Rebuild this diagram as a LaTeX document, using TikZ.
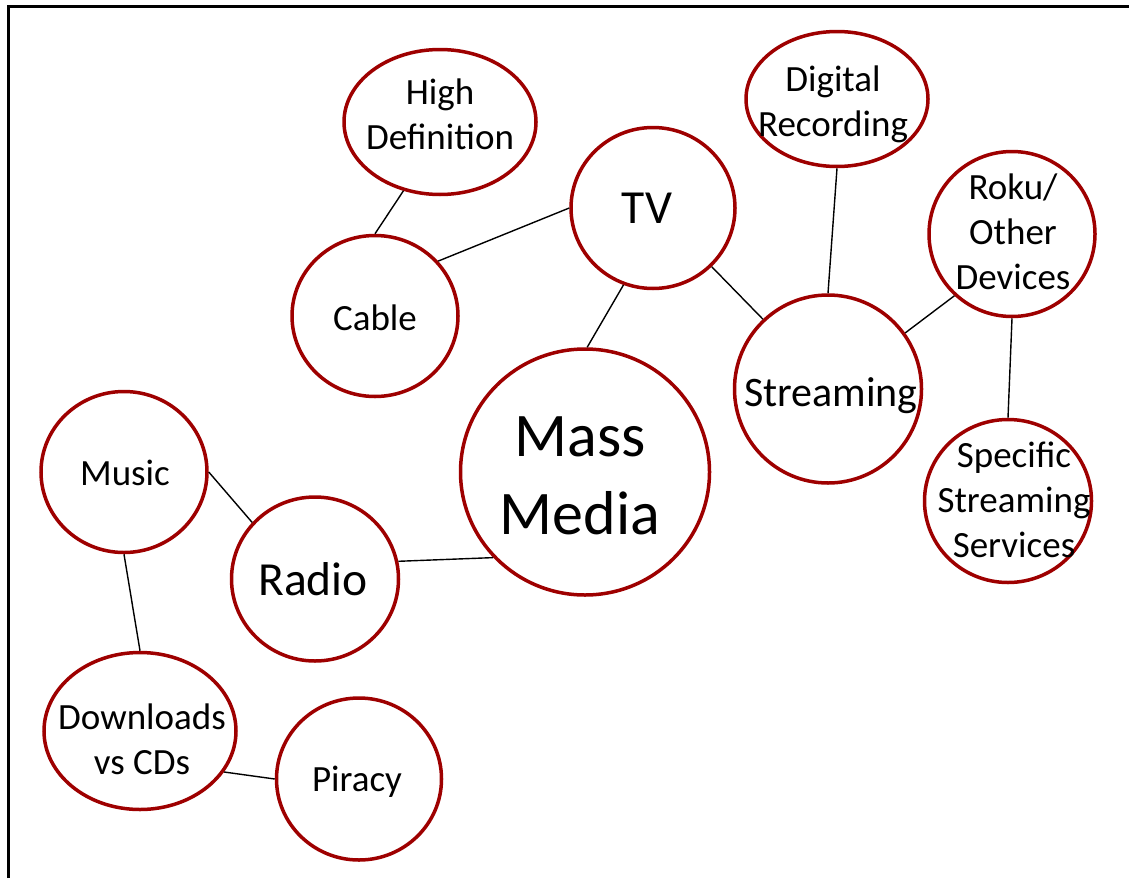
\documentclass[tikz,border=0pt]{standalone}
\usepackage{fontspec}
\setmainfont{Carlito}
\usetikzlibrary{shapes.geometric}
\definecolor{bubred}{RGB}{158,0,0}
\tikzset{
  bub/.style={ellipse, draw=bubred, line width=3.5pt, fill=white, inner sep=0pt},
  txt/.style={align=center, inner sep=0pt, font=\fontsize{37}{45}\selectfont},
  big/.style={align=center, inner sep=0pt, font=\fontsize{62}{78}\selectfont},
  mid/.style={align=center, inner sep=0pt, font=\fontsize{47.5}{55}\selectfont},
  link/.style={line width=1.4pt, black},
  frameline/.style={line width=3pt, black}
}
\begin{document}
\begin{tikzpicture}[x=1pt,y=-1pt]
\useasboundingbox (0,0) rectangle (1129,878);
\coordinate (fa) at (8.5,878);
\coordinate (fb) at (8.5,6.5);
\coordinate (fc) at (1129,6.5);
\draw[frameline] (fa) -- (fb) -- (fc);

% bubbles
\node[bub, minimum width=192pt, minimum height=145pt] (hd) at (440,122) {};
\node[bub, minimum width=164pt, minimum height=161pt] (tv) at (653,208) {};
\node[bub, minimum width=182pt, minimum height=135pt] (dr) at (837,99) {};
\node[bub, minimum width=166pt, minimum height=165pt] (roku) at (1012,234) {};
\node[bub, minimum width=166pt, minimum height=161pt] (cable) at (375,316) {};
\node[bub, minimum width=187pt, minimum height=188pt] (stream) at (828,389) {};
\node[bub, minimum width=249pt, minimum height=246pt] (mass) at (585,472) {};
\node[bub, minimum width=167pt, minimum height=163pt] (spec) at (1008,501) {};
\node[bub, minimum width=166pt, minimum height=161pt] (music) at (124,472) {};
\node[bub, minimum width=167pt, minimum height=164pt] (radio) at (315,579) {};
\node[bub, minimum width=192pt, minimum height=157pt] (dl) at (140,731) {};
\node[bub, minimum width=165pt, minimum height=162pt] (piracy) at (359,779) {};

% connectors
\draw[link] (hd.242) -- (cable.90);
\draw[link] (cable.41.6) -- (tv.180);
\draw[link] (tv.249) -- (mass.89);
\draw[link] (tv.315) -- (stream.133.7);
\draw[link] (dr.270) -- (stream.90);
\draw[link] (stream.36) -- (roku.227);
\draw[link] (roku.270) -- (spec.90);
\draw[link] (radio.12) -- (mass.223.7);
\draw[link] (music.0) -- (radio.138);
\draw[link] (music.270) -- (dl.90);
\draw[link] (dl.334.7) -- (piracy.180);

% texts
\node[txt] (hd-t) at (440,114) {High\\Definition};
\node[mid] (tv-t) at (647,208) {TV};
\node[txt] (dr-t) at (833,104) {Digital\\Recording};
\node[txt] (roku-t) at (1013,232) {Roku/\\Other\\Devices};
\node[txt] (cable-t) at (375,318) {Cable};
\node[txt, font=\fontsize{42}{48}\selectfont] (stream-t) at (831,396) {Streaming};
\node[big] (mass-t) at (580,476) {Mass\\Media};
\node[txt] (spec-t) at (1014,500) {Specific\\Streaming\\Services};
\node[txt] (music-t) at (125,473) {Music};
\node[mid] (radio-t) at (313,579) {Radio};
\node[txt] (dl-t) at (142,739) {Downloads\\vs CDs};
\node[txt] (piracy-t) at (357,782) {Piracy};
\end{tikzpicture}
\end{document}
